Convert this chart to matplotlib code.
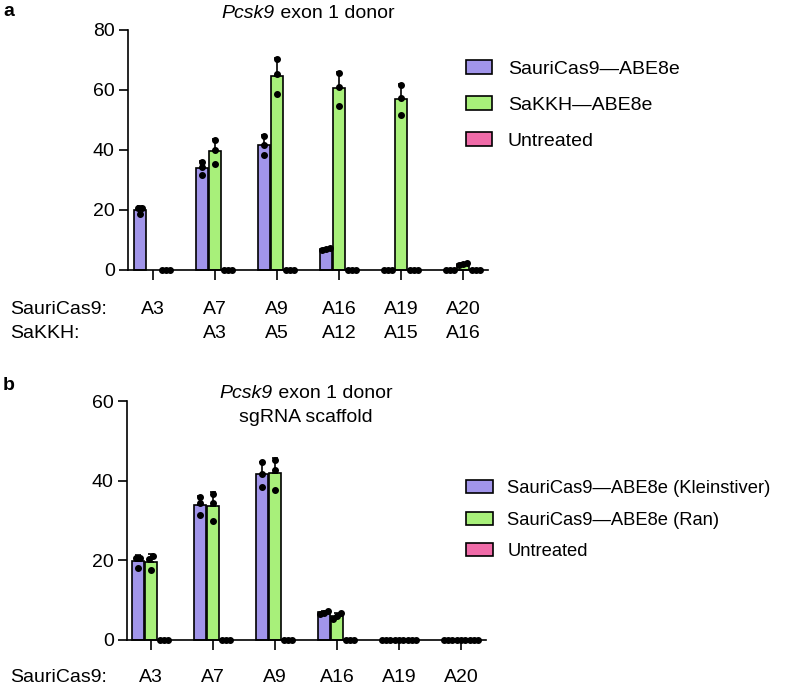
import numpy as np
import matplotlib
matplotlib.use("Agg")
import matplotlib.pyplot as plt
from matplotlib.patches import Patch
from matplotlib.transforms import blended_transform_factory

plt.rcParams['font.family'] = ['Liberation Sans', 'DejaVu Sans']

nan = np.nan
# ---------------- data ----------------
sites_a_sauri = ["A3", "A7", "A9", "A16", "A19", "A20"]
sites_a_sakkh = ["", "A3", "A5", "A12", "A15", "A16"]
sauri_a = [[20.7, 20.7, 18.4], [35.9, 34.2, 31.4], [44.7, 41.7, 38.3],
           [7.3, 6.9, 6.6], [0, 0, 0], [0, 0, 0]]
sakkh_a = [[nan, nan, nan], [43.3, 40.0, 35.4], [70.3, 65.3, 58.6],
           [65.8, 60.9, 54.7], [61.7, 57.2, 51.6], [2.2, 1.9, 1.5]]
untreated_a = [[0, 0, 0]] * 6
labels_a = ["SauriCas9\u2014ABE8e", "SaKKH\u2014ABE8e", "Untreated"]

sites_b_sauri = ["A3", "A7", "A9", "A16", "A19", "A20"]
klein_b = [[20.7, 20.7, 18.2], [36.0, 34.3, 31.4], [44.7, 41.6, 38.5],
           [7.4, 6.9, 6.6], [0, 0, 0], [0, 0, 0]]
ran_b = [[21.1, 20.4, 17.6], [36.7, 34.5, 30.0], [45.2, 42.8, 37.6],
         [6.9, 6.0, 5.2], [0, 0, 0], [0, 0, 0]]
untreated_b = [[0, 0, 0]] * 6
labels_b = ["SauriCas9\u2014ABE8e (Kleinstiver)", "SauriCas9\u2014ABE8e (Ran)", "Untreated"]

colors = ["#A195EA", "#A8F07A", "#F06BA8"]

W, H = 785, 688
fig = plt.figure(figsize=(W / 100, H / 100), dpi=100)
FS = 14


def px_axes(left, right, top, bottom):
    return fig.add_axes([left / W, 1 - bottom / H, (right - left) / W, (bottom - top) / H])


def spread(vals, step=0.06, tol=1.2):
    vals = np.asarray(vals, float)
    order = np.argsort(vals)
    offs = np.zeros(len(vals))
    clusters = []
    cur = [order[0]]
    for i in order[1:]:
        if abs(vals[i] - vals[cur[-1]]) < tol:
            cur.append(i)
        else:
            clusters.append(cur)
            cur = [i]
    clusters.append(cur)
    for c in clusters:
        n = len(c)
        for k, idx in enumerate(c):
            offs[idx] = (k - (n - 1) / 2) * step
    return offs


def draw_panel(ax, series, ymax, yticks):
    width = 0.18
    shift = 0.21
    x = np.arange(len(series[0]))
    for s, (data, col) in enumerate(zip(series, colors)):
        pos = x + (s - 1) * shift
        for xi, reps in zip(pos, data):
            reps = np.asarray(reps, float)
            if np.all(np.isnan(reps)):
                continue
            m = reps.mean()
            sd = reps.std(ddof=1)
            ax.bar(xi, m, width, color=col, edgecolor="black", linewidth=1.2,
                   zorder=2, clip_on=False)
            if sd > 0:
                ax.errorbar(xi, m, yerr=[[0], [sd]], fmt="none", ecolor="black",
                            elinewidth=1.2, capsize=2.5, capthick=1.2, zorder=3,
                            clip_on=False)
            offs = spread(reps)
            ax.plot(xi + offs, reps, "o", color="black", markersize=4.0,
                    zorder=4, clip_on=False)
    ax.set_ylim(0, ymax)
    ax.set_yticks(yticks)
    ax.set_xticks(x)
    ax.set_xticklabels([])
    for sp in ["top", "right"]:
        ax.spines[sp].set_visible(False)
    for sp in ["left", "bottom"]:
        ax.spines[sp].set_linewidth(1.2)
    ax.tick_params(axis="y", length=6.5, width=1.2, labelsize=FS, pad=3)
    ax.tick_params(axis="x", length=7, width=1.2)


def italic_title(xc, y, italic_part, rest, fs):
    r = fig.canvas.get_renderer()
    t1 = fig.text(0, 1 - y / H, italic_part, fontstyle="italic", fontsize=fs,
                  ha="left", va="center")
    t2 = fig.text(0, 1 - y / H, rest, fontsize=fs, ha="left", va="center")
    w1 = t1.get_window_extent(renderer=r).width
    w2 = t2.get_window_extent(renderer=r).width
    start = xc - (w1 + w2) / 2
    t1.set_x(start / W)
    t2.set_x((start + w1) / W)


# ---------------- panel a ----------------
axa = px_axes(128, 488, 30, 269.5)
draw_panel(axa, [sauri_a, sakkh_a, untreated_a], 80, [0, 20, 40, 60, 80])
axa.set_xlim(-25 / 62, 335 / 62)
tr = blended_transform_factory(axa.transData, fig.transFigure)
for i, (s1, s2) in enumerate(zip(sites_a_sauri, sites_a_sakkh)):
    axa.text(i, 1 - 310 / H, s1, transform=tr, ha="center", va="center", fontsize=FS)
    axa.text(i, 1 - 333 / H, s2, transform=tr, ha="center", va="center", fontsize=FS)
fig.text(10 / W, 1 - 310 / H, "SauriCas9:", ha="left", va="center", fontsize=FS)
fig.text(10 / W, 1 - 333 / H, "SaKKH:", ha="left", va="center", fontsize=FS)
italic_title(308, 13, "Pcsk9", " exon 1 donor", FS)
fig.text(3 / W, 1 - 12 / H, "a", ha="left", va="center", fontsize=14, fontweight="bold")

handles_a = [Patch(facecolor=c, edgecolor="black", linewidth=1.2, label=l)
             for c, l in zip(colors, labels_a)]
fig.legend(handles=handles_a, loc="upper left", bbox_to_anchor=(466 / W, 1 - 60 / H),
           frameon=False, fontsize=FS, handlelength=1.35, handleheight=0.7,
           handletextpad=0.8, labelspacing=0.95, borderpad=0, borderaxespad=0)

# ---------------- panel b ----------------
axb = px_axes(127, 486, 401, 640)
draw_panel(axb, [klein_b, ran_b, untreated_b], 60, [0, 20, 40, 60])
axb.set_xlim(-24 / 62, 335 / 62)
trb = blended_transform_factory(axb.transData, fig.transFigure)
for i, s1 in enumerate(sites_b_sauri):
    axb.text(i, 1 - 678 / H, s1, transform=trb, ha="center", va="center", fontsize=FS)
fig.text(10 / W, 1 - 678 / H, "SauriCas9:", ha="left", va="center", fontsize=FS)
italic_title(306, 394, "Pcsk9", " exon 1 donor", FS)
fig.text(306 / W, 1 - 418 / H, "sgRNA scaffold", ha="center", va="center", fontsize=FS)
fig.text(3 / W, 1 - 386 / H, "b", ha="left", va="center", fontsize=14, fontweight="bold")

handles_b = [Patch(facecolor=c, edgecolor="black", linewidth=1.2, label=l)
             for c, l in zip(colors, labels_b)]
fig.legend(handles=handles_b, loc="upper left", bbox_to_anchor=(466 / W, 1 - 480 / H),
           frameon=False, fontsize=13.2, handlelength=1.45, handleheight=0.72,
           handletextpad=0.8, labelspacing=0.8, borderpad=0, borderaxespad=0)

fig.savefig("out.png", dpi=100)
